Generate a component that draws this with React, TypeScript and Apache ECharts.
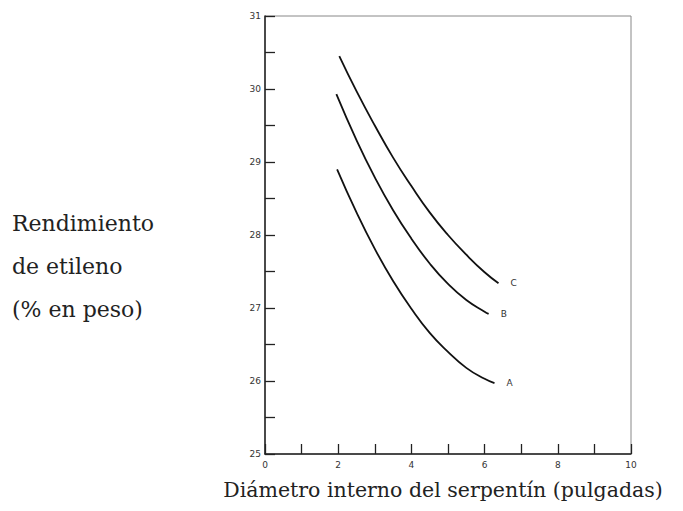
import React, { useEffect, useRef } from "react";
import * as echarts from "echarts";

const curveA: [number, number][] = [
  [1.97, 28.9], [2.5, 28.31], [3.0, 27.81], [3.5, 27.37], [4.0, 26.99],
  [4.5, 26.66], [5.0, 26.4], [5.5, 26.18], [6.0, 26.03], [6.27, 25.97],
];
const curveB: [number, number][] = [
  [1.95, 29.93], [2.5, 29.3], [3.0, 28.79], [3.5, 28.34], [4.0, 27.95],
  [4.5, 27.61], [5.0, 27.33], [5.5, 27.11], [6.0, 26.95], [6.11, 26.92],
];
const curveC: [number, number][] = [
  [2.03, 30.45], [2.5, 29.97], [3.0, 29.5], [3.5, 29.06], [4.0, 28.67],
  [4.5, 28.31], [5.0, 28.0], [5.5, 27.73], [6.0, 27.49], [6.38, 27.34],
];
const seriesNames = ["A", "B", "C"];
const yLabelLines = ["Rendimiento", "de etileno", "(% en peso)"];
const xTitle = "Diámetro interno del serpentín (pulgadas)";

export default function App() {
  const ref = useRef<HTMLDivElement>(null);
  useEffect(() => {
    if (!ref.current) return;
    const chart = echarts.init(ref.current, undefined, { renderer: "svg" });
    const curves = [curveA, curveB, curveC];
    const tickLabel = { fontSize: 9, color: "#333", fontFamily: "DejaVu Sans" };
    chart.setOption({
      animation: false,
      backgroundColor: "#fff",
      grid: {
        left: 265, right: 52, top: 16, bottom: 57,
        show: true, borderColor: "#888", borderWidth: 1,
      },
      xAxis: {
        type: "value", min: 0, max: 10, interval: 1,
        axisLine: { lineStyle: { color: "#222", width: 1.5 } },
        axisTick: { inside: true, length: 10, lineStyle: { color: "#222", width: 1.3 } },
        splitLine: { show: false },
        axisLabel: {
          ...tickLabel, margin: 6,
          formatter: (v: number) => (v % 2 === 0 ? String(v) : ""),
        },
      },
      yAxis: {
        type: "value", min: 25, max: 31, interval: 0.5,
        axisLine: { lineStyle: { color: "#222", width: 1.5 } },
        axisTick: { inside: true, length: 10, lineStyle: { color: "#222", width: 1.3 } },
        splitLine: { show: false },
        axisLabel: {
          ...tickLabel, margin: 4,
          formatter: (v: number) => (Number.isInteger(v) ? String(v) : ""),
        },
      },
      series: curves.map((d, i) => ({
        type: "line",
        name: seriesNames[i],
        data: d,
        smooth: true,
        showSymbol: false,
        lineStyle: { color: "#111", width: 1.8 },
        endLabel: {
          show: true,
          formatter: seriesNames[i],
          distance: 12,
          fontSize: 9,
          color: "#333",
          fontFamily: "DejaVu Sans",
        },
      })),
      graphic: [
        ...yLabelLines.map((t, i) => ({
          type: "text",
          x: 12,
          y: 223 + i * 43,
          style: {
            text: t,
            font: "22px 'DejaVu Serif'",
            fill: "#222",
            textVerticalAlign: "middle",
          },
        })),
        {
          type: "text",
          x: 443,
          y: 490,
          style: {
            text: xTitle,
            font: "20.5px 'DejaVu Serif'",
            fill: "#222",
            textAlign: "center",
            textVerticalAlign: "middle",
          },
        },
      ],
    });
    return () => chart.dispose();
  }, []);
  return <div ref={ref} style={{ width: 683, height: 511, margin: -8 }} />;
}
